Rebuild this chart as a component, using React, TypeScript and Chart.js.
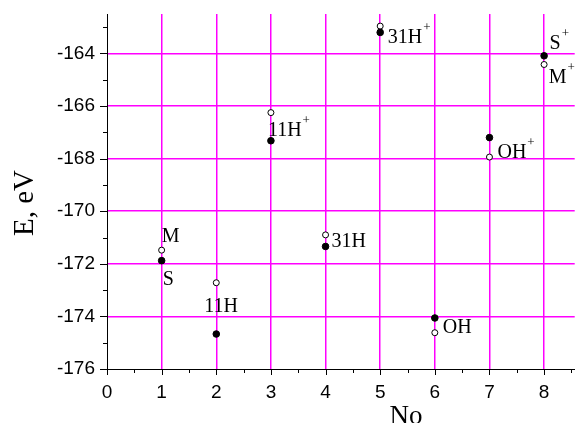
import React, { useEffect, useRef } from 'react';
import { Chart, registerables } from 'chart.js';

Chart.register(...registerables);

// ---- data ----
const categories = [1, 2, 3, 4, 5, 6, 7, 8];
const filledValues = [-171.88, -174.67, -167.32, -171.34, -163.2, -174.06, -167.2, -164.09];
const openValues = [-171.48, -172.72, -166.25, -170.9, -162.96, -174.62, -167.94, -164.42];

const xTickValues = [0, 1, 2, 3, 4, 5, 6, 7, 8];
const xMinorTickValues = [0.5, 1.5, 2.5, 3.5, 4.5, 5.5, 6.5, 7.5, 8.5];
const yTickValues = [-176, -174, -172, -170, -168, -166, -164];
const yMinorTickValues = [-175, -173, -171, -169, -167, -165, -163];

const labelTexts = ['M', 'S', '11H', '11H', '31H', '31H', 'OH', 'OH', 'S', 'M'];
const labelSups = ['', '', '', '+', '', '+', '', '+', '+', '+'];
const labelPointIndex = [0, 0, 1, 2, 3, 4, 5, 6, 7, 7];
const labelSeries = ['open', 'filled', 'open', 'filled', 'filled', 'filled', 'open', 'open', 'filled', 'open'];

const xTitle = 'No';
const yTitle = 'E, eV';

// ---- styles ----
const labelOffsets: [number, number][] = [
  [0, -8],
  [1, 24],
  [-12, 29],
  [-3, -5],
  [6, 1],
  [7.5, 11],
  [8, 0.5],
  [8, 0.7],
  [5.5, -6.4],
  [4.7, 19],
];
const MAGENTA = '#ff00ff';

export default function App() {
  const ref = useRef<HTMLCanvasElement>(null);

  useEffect(() => {
    document.body.style.margin = '0';
    const canvas = ref.current;
    if (!canvas) return;

    const overlay = {
      id: 'overlay',
      afterDatasetsDraw(chart: any) {
        const ctx = chart.ctx as CanvasRenderingContext2D;
        const xs = chart.scales.x;
        const ys = chart.scales.y;
        const area = chart.chartArea;
        ctx.save();
        // ticks
        ctx.strokeStyle = '#000';
        ctx.lineWidth = 1;
        ctx.beginPath();
        const drawX = (v: number, len: number) => {
          const px = Math.round(xs.getPixelForValue(v)) + 0.5;
          ctx.moveTo(px, area.bottom);
          ctx.lineTo(px, area.bottom + len);
        };
        const drawY = (v: number, len: number) => {
          const py = Math.round(ys.getPixelForValue(v)) + 0.5;
          ctx.moveTo(area.left - len, py);
          ctx.lineTo(area.left, py);
        };
        xTickValues.forEach((v) => drawX(v, 6));
        xMinorTickValues.forEach((v) => drawX(v, 4));
        yTickValues.forEach((v) => drawY(v, 7));
        yMinorTickValues.forEach((v) => drawY(v, 4));
        ctx.stroke();

        // point labels
        ctx.fillStyle = '#000';
        ctx.textAlign = 'left';
        ctx.textBaseline = 'alphabetic';
        labelTexts.forEach((t, i) => {
          const idx = labelPointIndex[i];
          const val = labelSeries[i] === 'open' ? openValues[idx] : filledValues[idx];
          const px = xs.getPixelForValue(categories[idx]);
          const py = ys.getPixelForValue(val);
          const [dx, dy] = labelOffsets[i];
          const x = px + dx;
          const y = py + dy;
          ctx.font = '20px "Liberation Serif"';
          ctx.fillText(t, x, y);
          if (labelSups[i]) {
            const w = ctx.measureText(t).width;
            ctx.font = '13px "Liberation Serif"';
            ctx.fillText(labelSups[i], x + w + 1, y - 12);
          }
        });

        // axis titles
        ctx.font = '27px "Liberation Serif"';
        ctx.textAlign = 'center';
        ctx.fillText(xTitle, 406, 424);
        ctx.translate(33, 203);
        ctx.rotate(-Math.PI / 2);
        ctx.font = '29px "Liberation Serif"';
        ctx.fillText(yTitle, 0, 0);
        ctx.restore();
      },
    };

    const chart = new Chart(canvas, {
      type: 'scatter',
      data: {
        datasets: [
          {
            data: categories.map((x, i) => ({ x, y: filledValues[i] })),
            backgroundColor: '#000',
            borderColor: '#000',
            borderWidth: 1,
            pointRadius: 3.3,
            pointHoverRadius: 3.3,
          },
          {
            data: categories.map((x, i) => ({ x, y: openValues[i] })),
            backgroundColor: '#fff',
            borderColor: '#000',
            borderWidth: 1,
            pointRadius: 3,
            pointHoverRadius: 3,
          },
        ],
      },
      options: {
        responsive: false,
        animation: false,
        devicePixelRatio: 1,
        events: [],
        layout: { padding: { top: 14, right: 0, left: 0, bottom: 0 } },
        plugins: { legend: { display: false }, tooltip: { enabled: false } },
        scales: {
          x: {
            type: 'linear',
            min: 0,
            max: 8.56,
            afterBuildTicks: (s: any) => {
              s.ticks = xTickValues.map((v) => ({ value: v }));
            },
            afterFit: (s: any) => {
              s.height = 54;
              s.paddingLeft = 0;
              s.paddingRight = 0;
              s.paddingTop = 0;
              s.paddingBottom = 0;
            },
            ticks: {
              padding: 12,
              color: '#000',
              autoSkip: false,
              maxRotation: 0,
              font: { family: 'Liberation Sans', size: 19 },
              callback: (v: any) => String(v),
            },
            grid: {
              color: (c: any) => (c.tick && c.tick.value === 0 ? 'rgba(0,0,0,0)' : MAGENTA),
              lineWidth: 1.5,
              drawTicks: false,
            },
            border: { display: true, color: '#000', width: 1 },
          },
          y: {
            type: 'linear',
            min: -176,
            max: -162.5,
            afterBuildTicks: (s: any) => {
              s.ticks = yTickValues.map((v) => ({ value: v }));
            },
            afterFit: (s: any) => {
              s.width = 107;
              s.paddingLeft = 0;
              s.paddingRight = 0;
              s.paddingTop = 0;
              s.paddingBottom = 0;
            },
            ticks: {
              padding: 12,
              color: '#000',
              autoSkip: false,
              font: { family: 'Liberation Sans', size: 19 },
              callback: (v: any) => String(v),
            },
            grid: {
              color: (c: any) => (c.tick && c.tick.value === -176 ? 'rgba(0,0,0,0)' : MAGENTA),
              lineWidth: 1.5,
              drawTicks: false,
            },
            border: { display: true, color: '#000', width: 1 },
          },
        },
      },
      plugins: [overlay],
    });

    return () => chart.destroy();
  }, []);

  return (
    <div style={{ width: 575, height: 423, background: '#fff', overflow: 'hidden' }}>
      <canvas ref={ref} width={579} height={423} style={{ display: 'block' }} />
    </div>
  );
}
